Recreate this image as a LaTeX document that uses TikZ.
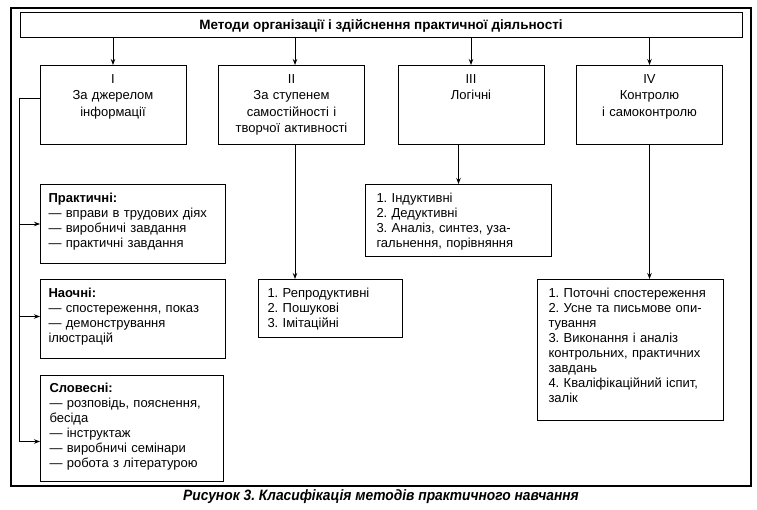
\documentclass[tikz,border=0pt]{standalone}
\usepackage{fontspec}
\setmainfont{Liberation Sans}
\newfontfamily\capfont[FakeStretch=0.92]{Liberation Sans}
\usetikzlibrary{arrows.meta}
\frenchspacing
\begin{document}
\begin{tikzpicture}[x=1pt, y=-1pt,
    every node/.style={font=\fontsize{13}{16.5}\selectfont},
    head/.style={rectangle, draw, line width=1pt, minimum width=722pt, minimum height=25pt, font=\fontsize{13.5}{15}\selectfont\bfseries},
    group/.style={rectangle, draw, line width=1pt, anchor=north, text width=136pt, inner xsep=5pt, align=center, inner ysep=9pt, text height=9pt, text depth=52pt},
    list/.style={rectangle, draw, line width=1pt, anchor=north west, align=left, inner ysep=9pt, text height=9pt, font=\fontsize{13}{15}\selectfont},
    arr/.style={draw, -{Stealth[length=6pt, width=4.5pt]}, line width=0.9pt}
]
\useasboundingbox (0,0) rectangle (757,510);
\draw[line width=1.1pt] (11,8) rectangle (751,486);
\node[head] (head) at (381,25.5) {Методи організації і здійснення практичної діяльності};
\node[group] (info) at (113,65) {I\\За джерелом\\інформації};
\node[group] (skill) at (291.5,65) {II\\За ступенем\\самостійності і\\творчої активності};
\node[group] (logic) at (471,65) {III\\Логічні};
\node[group] (control) at (649.5,65) {IV\\Контролю\\і самоконтролю};
% source of information
\node[list, text width=169pt, inner xsep=8pt, text depth=52pt] (prakt) at (40,184)
    {\textbf{Практичні:}\\— вправи в трудових діях\\— виробничі завдання\\— практичні завдання};
\node[list, text width=169pt, inner xsep=8pt, text depth=52pt] (naoch) at (40,279)
    {\textbf{Наочні:}\\— спостереження, показ\\— демонстрування\\ілюстрацій};
\node[list, text width=165pt, inner xsep=9pt, inner ysep=8pt, text depth=81pt] (slov) at (40,375)
    {\textbf{Словесні:}\\— розповідь, пояснення,\\бесіда\\— інструктаж\\— виробничі семінари\\— робота з літературою};
% the other groups
\node[list, text width=126pt, inner xsep=9pt, text depth=31pt] (repro) at (258,279)
    {1. Репродуктивні\\2. Пошукові\\3. Імітаційні};
\node[list, text width=164pt, inner xsep=11pt, text depth=45pt] (induct) at (365,184)
    {1. Індуктивні\\2. Дедуктивні\\3. Аналіз, синтез, уза-\\гальнення, порівняння};
\node[list, text width=164pt, inner xsep=11pt, text depth=114pt] (check) at (537,279)
    {1. Поточні спостереження\\2. Усне та письмове опи-\\тування\\3. Виконання і аналіз\\контрольних, практичних\\завдань\\4. Кваліфікаційний іспит,\\залік};
\node[font=\capfont\fontsize{15}{17}\selectfont\bfseries\itshape] (caption) at (381,497)
    {Рисунок 3. Класифікація методів практичного навчання};
\coordinate (c2) at (295,0);
\coordinate (trunk) at (19,98);
\draw[arr] (head.south -| info.north) -- (info.north);
\draw[arr] (c2 |- head.south) -- (c2 |- skill.north);
\draw[arr] (head.south -| logic.north) -- (logic.north);
\draw[arr] (head.south -| control.north) -- (control.north);
\draw[line width=0.9pt] (trunk -| info.west) -- (trunk);
\draw[arr] (trunk) |- (prakt.west);
\draw[arr] (trunk) |- ([yshift=2.5pt]naoch.west);
\draw[arr] (trunk) |- ([yshift=-13pt]slov.west);
\draw[arr] (c2 |- skill.south) -- (c2 |- repro.north);
\draw[arr] (induct.north |- logic.south) -- (induct.north);
\draw[arr] (control.south) -- (control.south |- check.north);
\end{tikzpicture}
\end{document}
